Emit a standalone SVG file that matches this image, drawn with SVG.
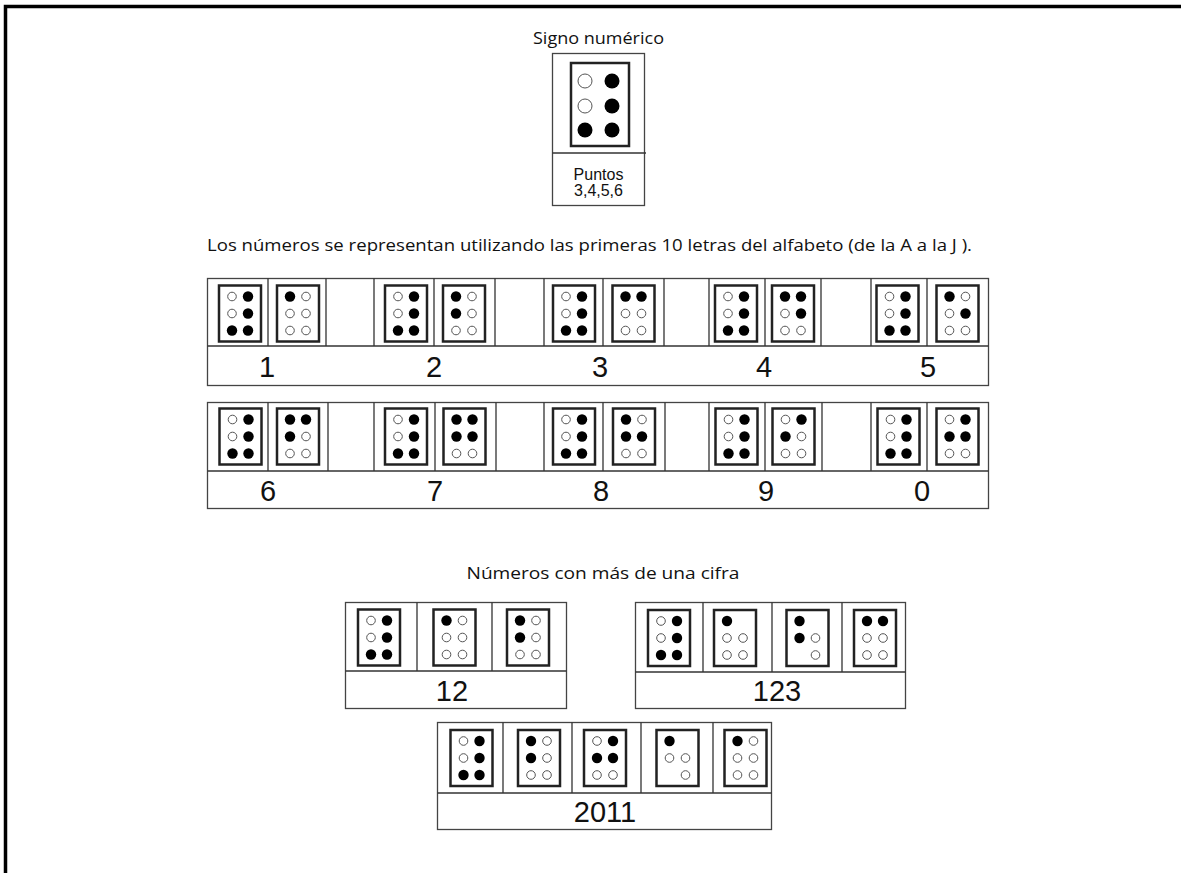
<svg xmlns="http://www.w3.org/2000/svg" xmlns:xlink="http://www.w3.org/1999/xlink" width="1181" height="873" viewBox="0 0 1181 873">
<style>
.frame{fill:none;stroke:#000;stroke-width:3.5}
.box{fill:#fff;stroke:#444;stroke-width:1.3}
.sep{stroke:#333;stroke-width:1.3}
.cell{fill:#fff;stroke:#222;stroke-width:2.5}
.on{fill:#000}
.off{fill:#fff;stroke:#555;stroke-width:1}
.num{font-family:"Liberation Sans",Arial,sans-serif;font-size:29px;text-anchor:middle;fill:#111}
.small{font-family:"Liberation Sans",Arial,sans-serif;font-size:16px;text-anchor:middle;fill:#111}
.cal{font-family:"Open Sans","Noto Sans",sans-serif;font-size:16.5px;fill:#111}
</style>
<defs>
<g id="sq"><rect class="cell" x="-21" y="-28" width="42" height="56"/></g>
<g id="c-sign"><use href="#sq"/><circle class="off" cx="-8" cy="-17" r="4.3"/><circle class="off" cx="-8" cy="0" r="4.3"/><circle class="on" cx="-8" cy="17" r="5.2"/><circle class="on" cx="8" cy="-17" r="5.2"/><circle class="on" cx="8" cy="0" r="5.2"/><circle class="on" cx="8" cy="17" r="5.2"/></g>
<g id="c-a"><use href="#sq"/><circle class="on" cx="-8" cy="-17" r="5.2"/><circle class="off" cx="-8" cy="0" r="4.3"/><circle class="off" cx="-8" cy="17" r="4.3"/><circle class="off" cx="8" cy="-17" r="4.3"/><circle class="off" cx="8" cy="0" r="4.3"/><circle class="off" cx="8" cy="17" r="4.3"/></g>
<g id="c-b"><use href="#sq"/><circle class="on" cx="-8" cy="-17" r="5.2"/><circle class="on" cx="-8" cy="0" r="5.2"/><circle class="off" cx="-8" cy="17" r="4.3"/><circle class="off" cx="8" cy="-17" r="4.3"/><circle class="off" cx="8" cy="0" r="4.3"/><circle class="off" cx="8" cy="17" r="4.3"/></g>
<g id="c-c"><use href="#sq"/><circle class="on" cx="-8" cy="-17" r="5.2"/><circle class="off" cx="-8" cy="0" r="4.3"/><circle class="off" cx="-8" cy="17" r="4.3"/><circle class="on" cx="8" cy="-17" r="5.2"/><circle class="off" cx="8" cy="0" r="4.3"/><circle class="off" cx="8" cy="17" r="4.3"/></g>
<g id="c-d"><use href="#sq"/><circle class="on" cx="-8" cy="-17" r="5.2"/><circle class="off" cx="-8" cy="0" r="4.3"/><circle class="off" cx="-8" cy="17" r="4.3"/><circle class="on" cx="8" cy="-17" r="5.2"/><circle class="on" cx="8" cy="0" r="5.2"/><circle class="off" cx="8" cy="17" r="4.3"/></g>
<g id="c-e"><use href="#sq"/><circle class="on" cx="-8" cy="-17" r="5.2"/><circle class="off" cx="-8" cy="0" r="4.3"/><circle class="off" cx="-8" cy="17" r="4.3"/><circle class="off" cx="8" cy="-17" r="4.3"/><circle class="on" cx="8" cy="0" r="5.2"/><circle class="off" cx="8" cy="17" r="4.3"/></g>
<g id="c-f"><use href="#sq"/><circle class="on" cx="-8" cy="-17" r="5.2"/><circle class="on" cx="-8" cy="0" r="5.2"/><circle class="off" cx="-8" cy="17" r="4.3"/><circle class="on" cx="8" cy="-17" r="5.2"/><circle class="off" cx="8" cy="0" r="4.3"/><circle class="off" cx="8" cy="17" r="4.3"/></g>
<g id="c-g"><use href="#sq"/><circle class="on" cx="-8" cy="-17" r="5.2"/><circle class="on" cx="-8" cy="0" r="5.2"/><circle class="off" cx="-8" cy="17" r="4.3"/><circle class="on" cx="8" cy="-17" r="5.2"/><circle class="on" cx="8" cy="0" r="5.2"/><circle class="off" cx="8" cy="17" r="4.3"/></g>
<g id="c-h"><use href="#sq"/><circle class="on" cx="-8" cy="-17" r="5.2"/><circle class="on" cx="-8" cy="0" r="5.2"/><circle class="off" cx="-8" cy="17" r="4.3"/><circle class="off" cx="8" cy="-17" r="4.3"/><circle class="on" cx="8" cy="0" r="5.2"/><circle class="off" cx="8" cy="17" r="4.3"/></g>
<g id="c-i"><use href="#sq"/><circle class="off" cx="-8" cy="-17" r="4.3"/><circle class="on" cx="-8" cy="0" r="5.2"/><circle class="off" cx="-8" cy="17" r="4.3"/><circle class="on" cx="8" cy="-17" r="5.2"/><circle class="off" cx="8" cy="0" r="4.3"/><circle class="off" cx="8" cy="17" r="4.3"/></g>
<g id="c-j"><use href="#sq"/><circle class="off" cx="-8" cy="-17" r="4.3"/><circle class="on" cx="-8" cy="0" r="5.2"/><circle class="off" cx="-8" cy="17" r="4.3"/><circle class="on" cx="8" cy="-17" r="5.2"/><circle class="on" cx="8" cy="0" r="5.2"/><circle class="off" cx="8" cy="17" r="4.3"/></g>
<g id="c-a2"><use href="#sq"/><circle class="on" cx="-8" cy="-17" r="5.2"/><circle class="off" cx="-8" cy="0" r="4.3"/><circle class="off" cx="-8" cy="17" r="4.3"/><circle class="off" cx="8" cy="0" r="4.3"/><circle class="off" cx="8" cy="17" r="4.3"/></g>
<g id="c-b2"><use href="#sq"/><circle class="on" cx="-8" cy="-17" r="5.2"/><circle class="on" cx="-8" cy="0" r="5.2"/><circle class="off" cx="8" cy="0" r="4.3"/><circle class="off" cx="8" cy="17" r="4.3"/></g>
<g id="c-a3"><use href="#sq"/><circle class="on" cx="-8" cy="-17" r="5.2"/><circle class="off" cx="-8" cy="0" r="4.3"/><circle class="off" cx="8" cy="0" r="4.3"/><circle class="off" cx="8" cy="17" r="4.3"/></g>
</defs>
<rect width="1181" height="873" fill="#fff"/>
<path class="frame" d="M5.5 873 V6.5 H1181"/>

<g id="signo">
<text class="cal" x="598.5" y="44" text-anchor="middle" textLength="131" lengthAdjust="spacingAndGlyphs">Signo numérico</text>
<rect class="box" x="552.5" y="53.5" width="92" height="152"/>
<line class="sep" x1="552.5" y1="153" x2="646" y2="153"/>
<rect class="cell" x="571" y="63" width="58" height="83"/>
<circle class="off" cx="585" cy="81" r="7"/><circle class="on" cx="612" cy="81" r="7.5"/>
<circle class="off" cx="585" cy="106" r="7"/><circle class="on" cx="612" cy="106" r="7.5"/>
<circle class="on" cx="585" cy="130" r="7.5"/><circle class="on" cx="612" cy="130" r="7.5"/>
<text class="small" x="598.5" y="180">Puntos</text>
<text class="small" x="598.5" y="196">3,4,5,6</text>
</g>

<text class="cal" x="207" y="251" textLength="765" lengthAdjust="spacingAndGlyphs">Los números se representan utilizando las primeras 10 letras del alfabeto (de la A  a la J ).</text>

<g id="row1">
<rect class="box" x="207.5" y="278.5" width="781" height="107"/>
<line class="sep" x1="207.5" y1="346" x2="988.5" y2="346"/>
<path class="sep" d="M268 278.5V346M326 278.5V346M374 278.5V346M434 278.5V346M495 278.5V346M544 278.5V346M603 278.5V346M664 278.5V346M709 278.5V346M765 278.5V346M821 278.5V346M871 278.5V346M927 278.5V346"/>
<use href="#c-sign" x="240" y="313.5"/><use href="#c-a" x="298" y="313.5"/>
<use href="#c-sign" x="406" y="313.5"/><use href="#c-b" x="464" y="313.5"/>
<use href="#c-sign" x="574" y="313.5"/><use href="#c-c" x="633.5" y="313.5"/>
<use href="#c-sign" x="736" y="313.5"/><use href="#c-d" x="793" y="313.5"/>
<use href="#c-sign" x="897.5" y="313.5"/><use href="#c-e" x="957.5" y="313.5"/>
<text class="num" x="267" y="377">1</text>
<text class="num" x="434" y="377">2</text>
<text class="num" x="600" y="377">3</text>
<text class="num" x="764" y="377">4</text>
<text class="num" x="928" y="377">5</text>
</g>

<g id="row2">
<rect class="box" x="207.5" y="402.5" width="781" height="106"/>
<line class="sep" x1="207.5" y1="471" x2="988.5" y2="471"/>
<path class="sep" d="M268 402.5V471M328 402.5V471M374 402.5V471M435 402.5V471M496 402.5V471M544 402.5V471M603 402.5V471M665 402.5V471M709 402.5V471M765 402.5V471M822 402.5V471M871 402.5V471M927 402.5V471"/>
<use href="#c-sign" x="240.5" y="436.5"/><use href="#c-f" x="298" y="436.5"/>
<use href="#c-sign" x="406" y="436.5"/><use href="#c-g" x="464.5" y="436.5"/>
<use href="#c-sign" x="574" y="436.5"/><use href="#c-h" x="634" y="436.5"/>
<use href="#c-sign" x="736.5" y="436.5"/><use href="#c-i" x="793.5" y="436.5"/>
<use href="#c-sign" x="898.5" y="436.5"/><use href="#c-j" x="957.5" y="436.5"/>
<text class="num" x="268" y="501">6</text>
<text class="num" x="435" y="501">7</text>
<text class="num" x="601" y="501">8</text>
<text class="num" x="766" y="501">9</text>
<text class="num" x="922" y="501">0</text>
</g>

<text class="cal" x="603" y="579" text-anchor="middle" textLength="273" lengthAdjust="spacingAndGlyphs">Números con más de una cifra</text>

<g id="n12">
<rect class="box" x="345.5" y="602.5" width="221" height="106"/>
<line class="sep" x1="345.5" y1="671" x2="566.5" y2="671"/>
<path class="sep" d="M417 602.5V671M492 602.5V671"/>
<use href="#c-sign" x="379" y="637.5"/><use href="#c-a" x="454.5" y="637.5"/><use href="#c-b" x="528" y="637.5"/>
<text class="num" x="452" y="701">12</text>
</g>

<g id="n123">
<rect class="box" x="635.5" y="602.5" width="270" height="106"/>
<line class="sep" x1="635.5" y1="672" x2="905.5" y2="672"/>
<path class="sep" d="M703 602.5V672M772 602.5V672M842 602.5V672"/>
<use href="#c-sign" x="669" y="638"/><use href="#c-a2" x="735" y="638"/><use href="#c-b2" x="807.5" y="638"/><use href="#c-c" x="875" y="638"/>
<text class="num" x="777" y="701">123</text>
</g>

<g id="n2011">
<rect class="box" x="437.5" y="722.5" width="334" height="107"/>
<line class="sep" x1="437.5" y1="793" x2="771.5" y2="793"/>
<path class="sep" d="M503 722.5V793M572 722.5V793M641 722.5V793M713 722.5V793"/>
<use href="#c-sign" x="471.5" y="758"/><use href="#c-b" x="539" y="758"/><use href="#c-j" x="605" y="758"/><use href="#c-a3" x="677.5" y="758"/><use href="#c-a" x="745.5" y="758"/>
<text class="num" x="605" y="822">2011</text>
</g>
</svg>
